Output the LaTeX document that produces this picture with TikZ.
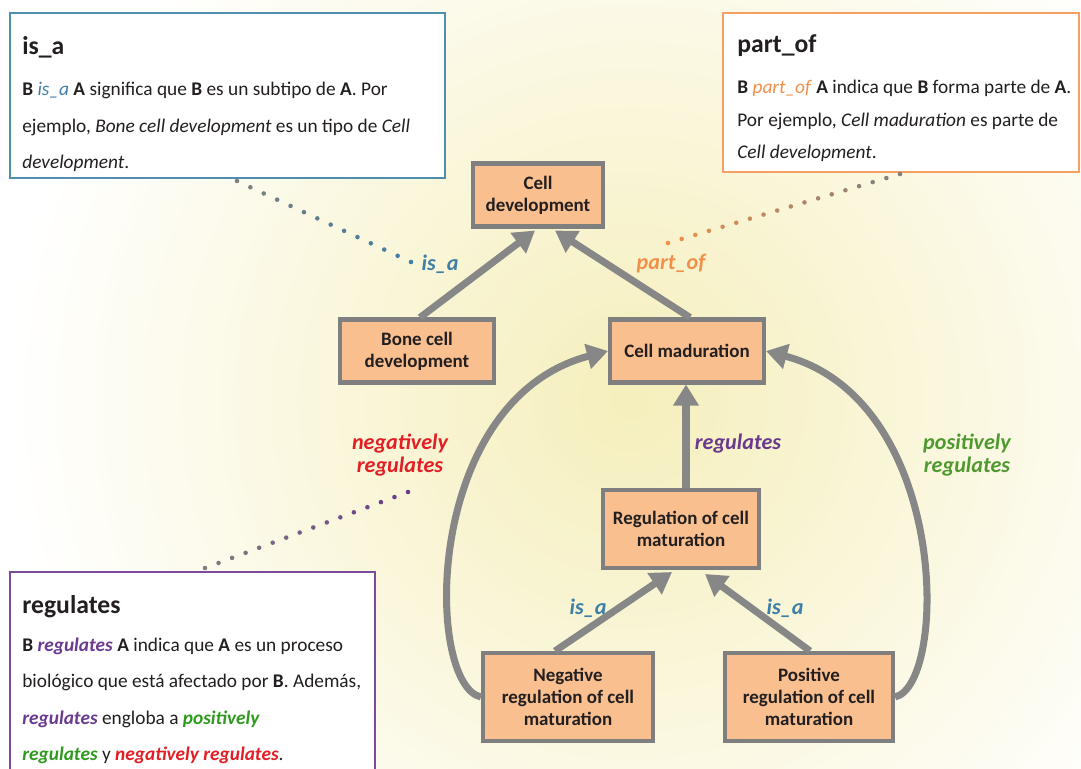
\documentclass[tikz,border=0pt]{standalone}
\usepackage{fontspec}
\setmainfont{Carlito}
\usetikzlibrary{arrows.meta,calc}

\definecolor{nodefill}{HTML}{F9BF8F}
\definecolor{nodeline}{HTML}{7F7F7F}
\definecolor{arrowgray}{HTML}{878787}
\definecolor{isacol}{HTML}{3D7FA6}
\definecolor{isabox}{HTML}{4E8FB0}
\definecolor{partcol}{HTML}{F2904A}
\definecolor{partbox}{HTML}{F5A062}
\definecolor{regcol}{HTML}{6A3A8E}
\definecolor{regbox}{HTML}{7D4A9E}
\definecolor{negcol}{HTML}{E31E24}
\definecolor{poscol}{HTML}{4E9A2F}
\definecolor{posdark}{HTML}{2E9A1E}
\definecolor{bgyellow}{HTML}{F5EFBC}
\definecolor{textdark}{HTML}{231F20}

\tikzset{
  term/.style={draw=nodeline, line width=2.3pt, fill=nodefill, align=center,
    font=\fontsize{10.8}{12.5}\selectfont\bfseries, text=textdark, inner sep=2pt},
  rel/.style={draw=arrowgray, line width=4pt,
    -{Triangle[length=12pt,width=14pt]}},
  relname/.style={font=\fontsize{12.6}{13.5}\selectfont\bfseries\itshape, align=center},
  defbox/.style={line width=1.6pt, fill=white},
  deftitle/.style={anchor=west, font=\fontsize{14.6}{16}\selectfont\bfseries, text=textdark, inner sep=0pt},
  deftext/.style={anchor=west, align=left, text=textdark, inner sep=0pt}
}

% dotted leader whose dots fade from gray into the given colour
\newcommand\fadedots[4]{%
  \foreach \i in {0,...,#3}{%
    \pgfmathtruncatemacro\p{100*\i/#3}%
    \fill[#4!\p!gray] ($(#1)!\i/#3!(#2)$) circle (1.3pt);}}

\begin{document}
\begin{tikzpicture}[x=0.02cm, y=-0.02cm]
  % page and soft background glow
  \fill[white] (0,0) rectangle (1081,768);
  \begin{scope}
    \clip (0,0) rectangle (1081,768);
    \shade[inner color=bgyellow, outer color=white] (630,400) circle (12.5cm);
  \end{scope}
  \useasboundingbox (0,0) rectangle (1081,768);

  % definition boxes
  \draw[defbox, draw=isabox] (10,13) rectangle (445,178);
  \node[deftitle] (isatitle) at (22,47) {is\_a};
  \node[deftext, font=\fontsize{11}{20.8}\selectfont] (isatext) at (22,127)
    {\textbf{B} \textcolor{isacol}{\textit{is\_a}} \textbf{A} significa que \textbf{B} es un subtipo de \textbf{A}. Por\\
     ejemplo, \textit{Bone cell development} es un tipo de \textit{Cell}\\
     \textit{development}.};

  \draw[defbox, draw=partbox] (723,13) rectangle (1079,172);
  \node[deftitle] (parttitle) at (737,46) {part\_of};
  \node[deftext, font=\fontsize{11}{18.5}\selectfont] (parttext) at (737,121)
    {\textbf{B} \textcolor{partcol}{\textit{part\_of}} \textbf{A} indica que \textbf{B} forma parte de \textbf{A}.\\
     Por ejemplo, \textit{Cell maduration} es parte de\\
     \textit{Cell development}.};

  \draw[defbox, draw=regbox] (10,572) rectangle (375,775);
  \node[deftitle] (regtitle) at (22,607) {regulates};
  \node[deftext, font=\fontsize{11}{20.7}\selectfont] (regtext) at (22,701)
    {\textbf{B} \textcolor{regcol}{\textbf{\textit{regulates}}} \textbf{A} indica que \textbf{A} es un proceso\\
     biológico que está afectado por \textbf{B}. Además,\\
     \textcolor{regcol}{\textbf{\textit{regulates}}} engloba a \textcolor{posdark}{\textbf{\textit{positively}}}\\
     \textcolor{posdark}{\textbf{\textit{regulates}}} y \textcolor{negcol}{\textbf{\textit{negatively regulates}}}.};

  % terms
  \node[term, minimum width=2.6cm, minimum height=1.26cm] (celldev) at (538,195) {Cell\\development};
  \node[term, minimum width=3.08cm, minimum height=1.26cm] (bone) at (417,351) {Bone cell\\development};
  \node[term, minimum width=3.08cm, minimum height=1.26cm] (cm) at (687,351) {Cell maduration};
  \node[term, minimum width=3.12cm, minimum height=1.56cm] (rcm) at (681,529) {Regulation of cell\\maturation};
  \node[term, minimum width=3.4cm, minimum height=1.76cm] (neg) at (568,697) {Negative\\regulation of cell\\maturation};
  \node[term, minimum width=3.36cm, minimum height=1.76cm] (pos) at (809,697) {Positive\\regulation of cell\\maturation};

  % relations
  \draw[rel] ($(bone.north)+(3,0)$) -- ($(celldev.south)+(-3,2)$);
  \draw[rel] ($(cm.north)+(3,0)$) -- ($(celldev.south)+(17,2)$);
  \draw[rel] ($(rcm.north)+(5,0)$) -- ($(cm.south)+(-1,0)$);
  \draw[rel] ($(neg.north)+(-13,0)$) -- ($(rcm.south)+(-9,2)$);
  \draw[rel] ($(pos.north)+(1,0)$) -- ($(rcm.south)+(24,4)$);
  \draw[rel] (neg.west) .. controls (425,685) and (422,400) .. (cm.west);
  \draw[rel] (pos.east) .. controls (948,685) and (950,400) .. (cm.east);

  % relation names
  \node[relname, text=isacol] (lisa) at (440,264) {is\_a};
  \node[relname, text=partcol] (lpart) at (671,264) {part\_of};
  \node[relname, text=regcol] (lreg) at (738,444) {regulates};
  \node[relname, text=negcol] (lneg) at (400,455) {negatively\\regulates};
  \node[relname, text=poscol] (lpos) at (967,455) {positively\\regulates};
  \node[relname, text=isacol] (lisa2) at (588,608) {is\_a};
  \node[relname, text=isacol] (lisa3) at (785,608) {is\_a};

  % dotted leaders from the definitions to their relation names
  \coordinate (d1a) at (237,181);
  \coordinate (d1b) at (411,262);
  \coordinate (d2a) at (900,174);
  \coordinate (d2b) at (668,243);
  \coordinate (d3a) at (205,568);
  \coordinate (d3b) at (408,492);
  \fadedots{d1a}{d1b}{13}{isacol}
  \fadedots{d2a}{d2b}{17}{partcol}
  \fadedots{d3a}{d3b}{15}{regcol}
\end{tikzpicture}
\end{document}
